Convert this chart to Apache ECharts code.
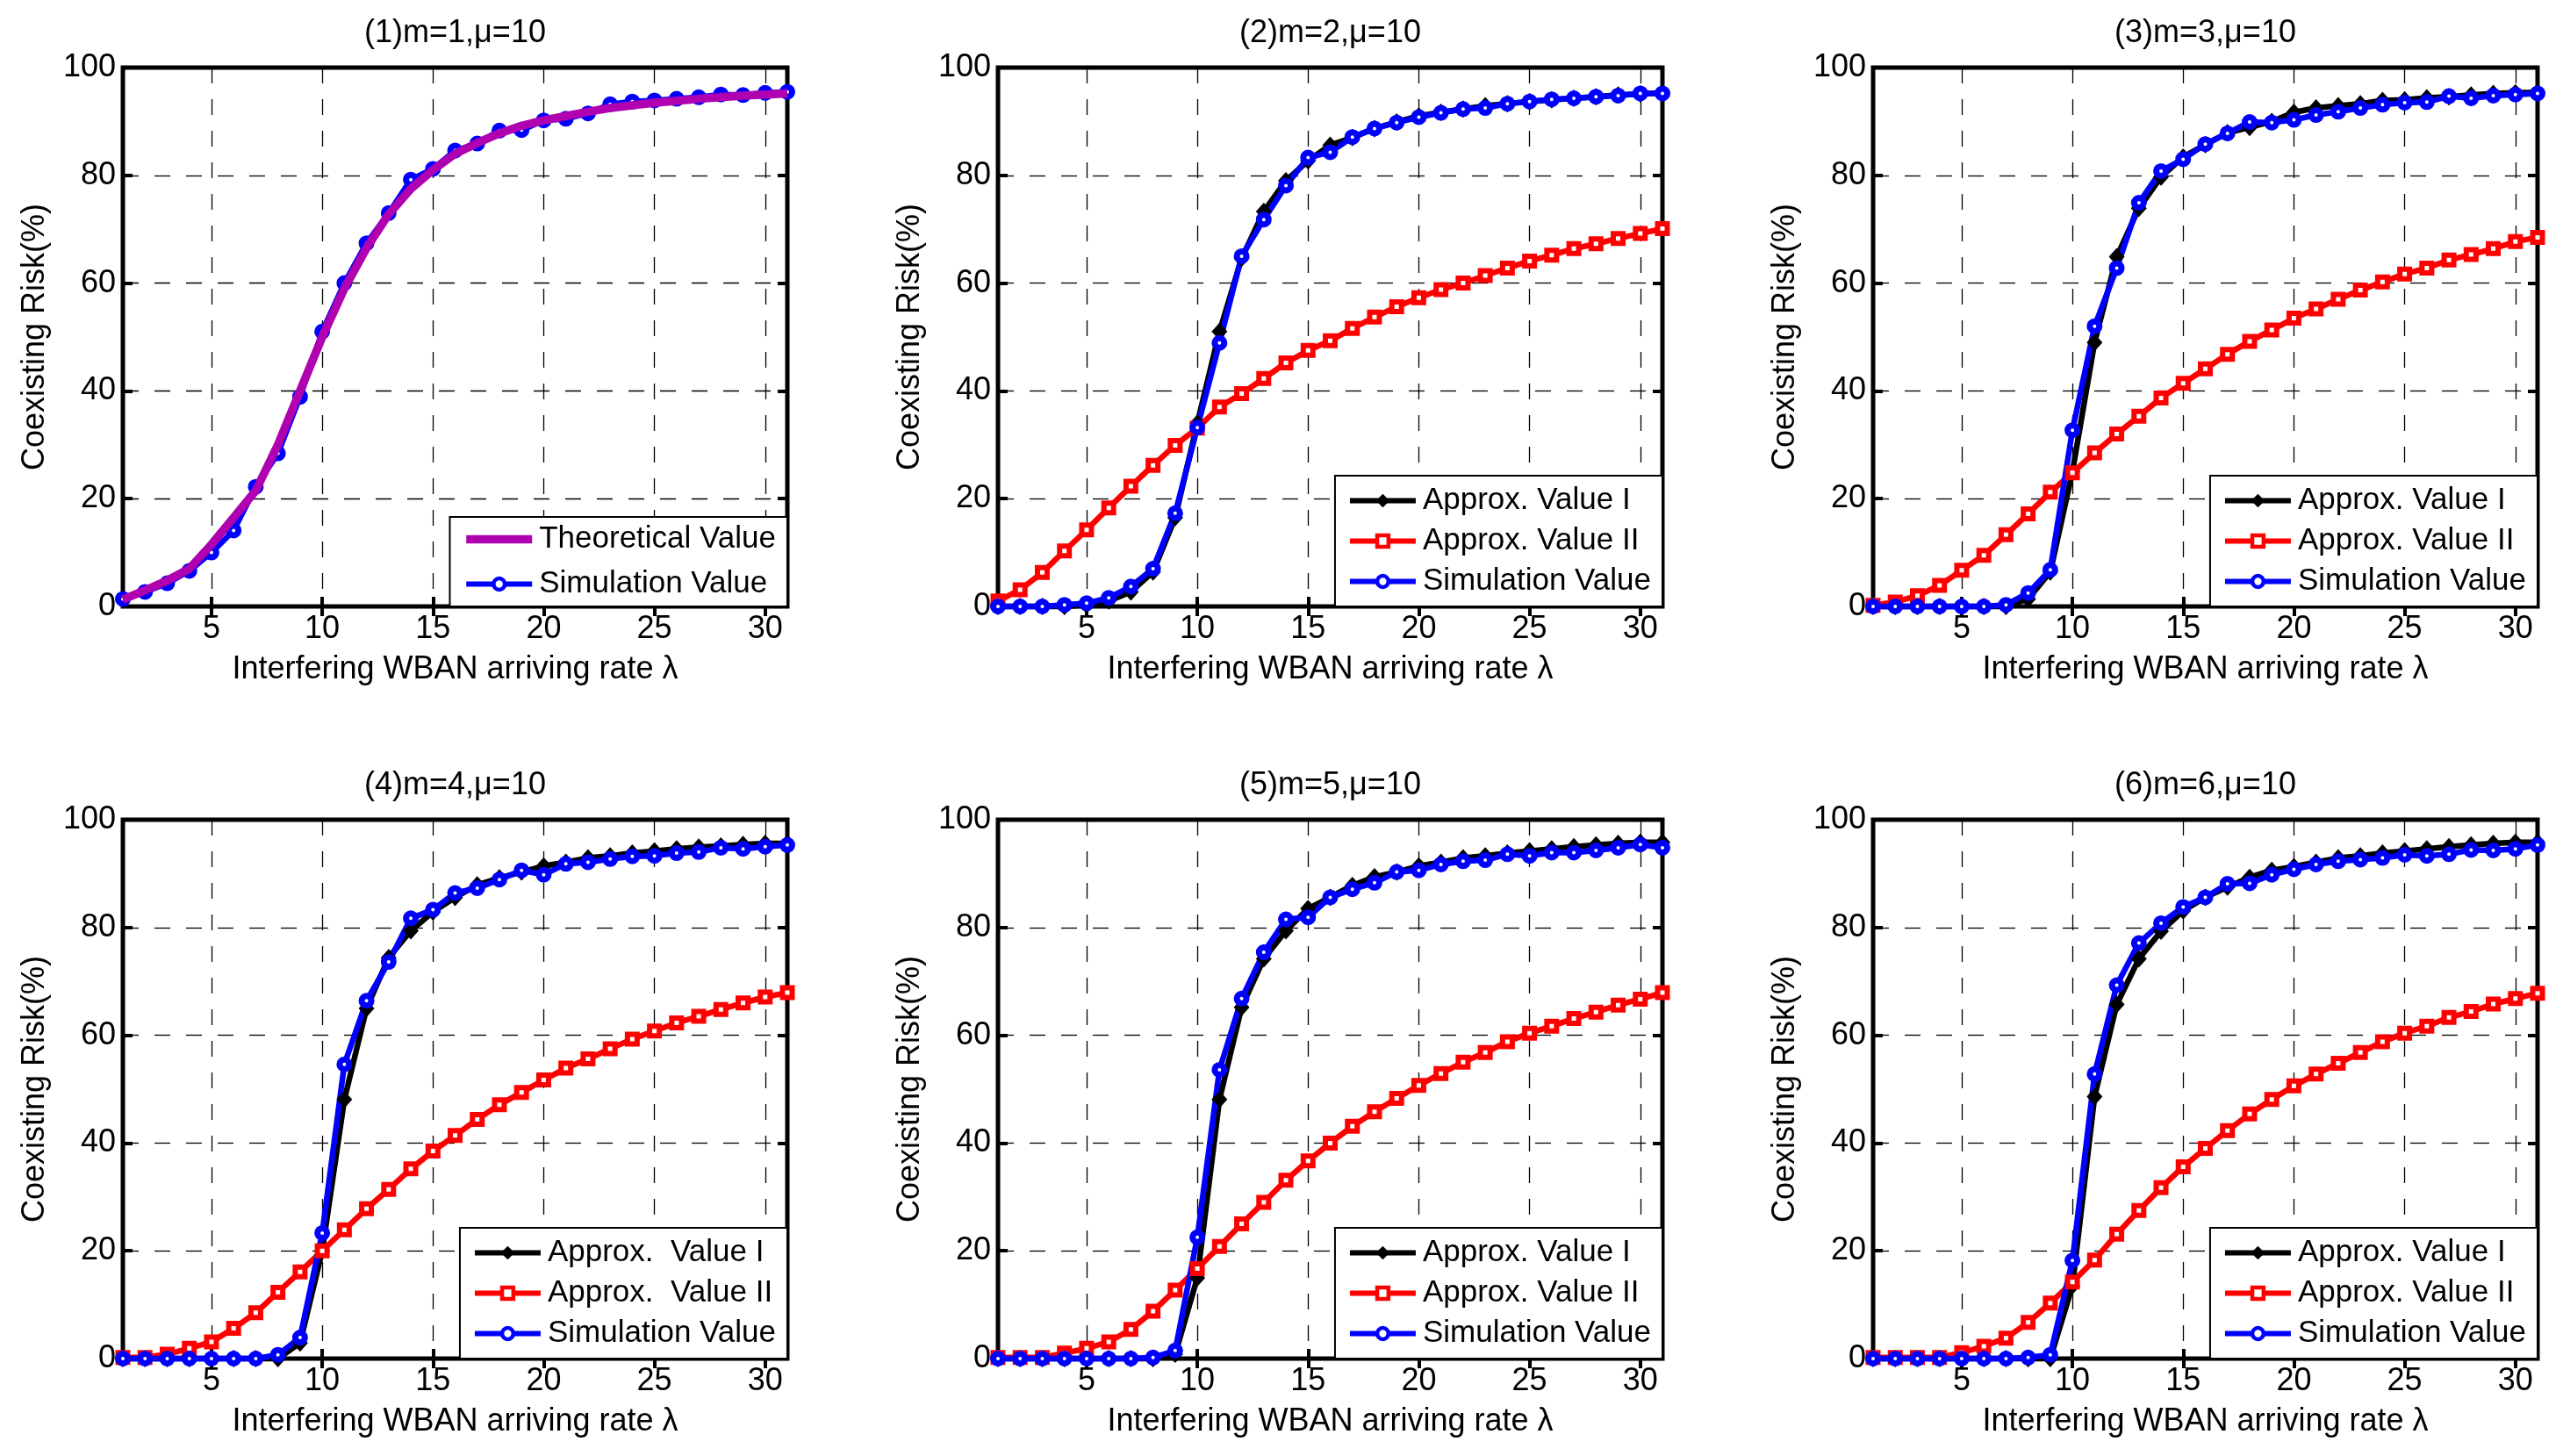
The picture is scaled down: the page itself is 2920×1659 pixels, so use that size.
<!DOCTYPE html>
<html>
<head>
<meta charset="utf-8">
<script src="https://cdn.jsdelivr.net/npm/echarts@6/dist/echarts.min.js"></script>
<style>
html,body{margin:0;padding:0;background:#fff;}
#c{width:2920px;height:1659px;}
</style>
</head>
<body>
<div id="c"></div>
<script>
const lambda = [1,2,3,4,5,6,7,8,9,10,11,12,13,14,15,16,17,18,19,20,21,22,23,24,25,26,27,28,29,30,31];
const xTicks = [5,10,15,20,25,30];
const titles = ['(1)m=1,μ=10','(2)m=2,μ=10','(3)m=3,μ=10','(4)m=4,μ=10','(5)m=5,μ=10','(6)m=6,μ=10'];
const xName = 'Interfering WBAN arriving rate λ';
const yName = 'Coexisting Risk(%)';

const m1Theory = [1.3,3.0,4.8,7.0,11.5,16.5,21.5,30.0,40.0,50.0,59.0,66.5,72.8,77.5,81.0,84.0,86.0,87.8,89.2,90.2,91.0,91.8,92.5,93.0,93.5,93.8,94.2,94.5,94.8,95.0,95.2];
const m1Sim = [1.4,2.7,4.3,6.6,10.0,14.1,22.2,28.4,38.9,51.0,60.0,67.4,73.0,79.2,81.2,84.6,85.9,88.3,88.4,90.2,90.5,91.5,93.2,93.7,93.9,94.2,94.5,95.0,94.9,95.3,95.5];

const m2ApproxI = [0,0,0,0,0.3,1.0,2.7,6.4,16.5,34.0,51.0,64.6,73.3,79.0,82.7,85.6,87.0,88.7,89.9,91.0,91.7,92.3,92.9,93.3,93.7,94.0,94.3,94.6,94.9,95.1,95.3];
const m2ApproxII = [1.0,3.1,6.3,10.3,14.2,18.3,22.3,26.2,29.9,33.1,37.0,39.5,42.3,45.2,47.5,49.3,51.6,53.7,55.6,57.3,58.8,60.0,61.4,62.8,64.1,65.2,66.4,67.3,68.3,69.2,70.1];
const m2Sim = [0,0,0,0.3,0.6,1.6,3.7,7.0,17.3,33.2,48.9,65.0,71.8,78.1,83.3,84.3,87.1,88.7,89.8,90.8,91.6,92.3,92.5,93.3,93.7,94.1,94.3,94.6,94.8,95.2,95.2];

const m3ApproxI = [0,0,0,0,0,0,0,1.4,6.4,25.0,49.0,64.9,73.9,79.7,83.4,85.7,87.9,88.9,90.0,91.7,92.5,92.9,93.3,93.9,94.0,94.4,94.6,94.9,95.2,95.3,95.4];
const m3ApproxII = [0.2,0.8,2.0,3.9,6.7,9.5,13.3,17.2,21.2,24.8,28.5,32.0,35.3,38.7,41.4,44.1,46.8,49.2,51.3,53.5,55.2,57.0,58.7,60.2,61.7,62.8,64.3,65.3,66.4,67.7,68.5];
const m3Sim = [0,0,0,0,0,0,0.3,2.5,6.8,32.7,52.0,62.8,74.9,80.8,83.0,85.8,87.8,89.9,89.8,90.3,91.2,91.8,92.5,93.1,93.5,93.6,94.7,94.3,94.8,95.0,95.2];

const m4ApproxI = [0,0,0,0,0,0,0,0,2.9,20.0,48.1,65.0,74.4,79.4,82.9,85.6,87.9,89.2,90.3,91.4,92.1,92.9,93.3,93.8,94.2,94.6,94.9,95.1,95.4,95.6,95.6];
const m4ApproxII = [0.2,0.2,0.8,1.9,3.1,5.6,8.5,12.3,16.1,20.0,23.9,27.8,31.4,35.2,38.5,41.4,44.4,47.1,49.4,51.7,53.9,55.6,57.5,59.3,60.8,62.3,63.5,64.8,66.0,67.1,67.9];
const m4Sim = [0,0,0,0,0,0,0,0.7,3.9,23.3,54.6,66.4,73.6,81.7,83.3,86.4,87.3,88.9,90.6,89.8,91.8,92.1,92.7,93.2,93.3,93.8,94.0,94.8,94.6,95.0,95.3];

const m5ApproxI = [0,0,0,0,0,0,0,0,0.8,15.0,48.1,65.2,74.2,79.4,83.5,85.6,87.8,89.4,90.3,91.4,92.1,92.9,93.3,93.8,94.2,94.6,95.0,95.3,95.6,95.8,95.8];
const m5ApproxII = [0.2,0.2,0.2,1.0,1.9,3.1,5.4,8.8,12.7,16.7,20.8,25.0,29.0,33.1,36.7,40.0,43.1,45.8,48.3,50.7,52.9,55.0,56.8,58.8,60.4,61.7,63.1,64.3,65.6,66.7,67.9];
const m5Sim = [0,0,0,0,0,0,0,0.2,1.5,22.5,53.6,66.8,75.4,81.5,81.9,85.6,87.1,88.3,90.3,90.6,91.7,92.3,92.5,93.6,93.3,93.9,93.9,94.3,94.8,95.4,94.8];

const m6ApproxI = [0,0,0,0,0,0,0,0,0,13.5,48.6,65.7,74.2,79.3,83.1,85.6,87.5,89.3,90.6,91.3,92.1,92.9,93.3,93.8,94.2,94.6,95.0,95.3,95.6,95.8,95.8];
const m6ApproxII = [0.2,0.2,0.2,0.2,1.1,2.3,3.8,6.7,10.3,14.2,18.3,23.1,27.5,31.7,35.6,39.0,42.3,45.4,48.1,50.6,52.8,54.8,56.8,58.8,60.4,61.7,63.3,64.4,65.8,66.8,67.8];
const m6Sim = [0,0,0,0,0,0,0,0.2,0.7,18.2,52.8,69.3,77.1,80.8,83.8,85.6,88.1,88.2,89.8,90.8,91.7,92.3,92.6,92.9,93.5,93.3,93.6,94.4,94.3,94.6,95.3];

const FONT = 'Liberation Sans, Arial, Helvetica, sans-serif';
const FS = 36;
const LFS = 35;
const MAGENTA = '#B000B0';

// layout (pixels)
const colLeft = [140, 1137, 2134];
const rowTop = [77, 934];
const GW = 757, GH = 614;

const grids = [], xAxes = [], yAxes = [], series = [], legends = [];

const styles = {
  theory: {color:MAGENTA, lineStyle:{width:9.5, color:MAGENTA}, symbol:'none', showSymbol:false, z:4},
  sim: {color:'#0000FF', lineStyle:{width:6.5, color:'#0000FF'}, symbol:'circle', symbolSize:11,
        itemStyle:{color:'#ffffff', borderColor:'#0000FF', borderWidth:7}, z:3},
  a2: {color:'#FF0000', lineStyle:{width:6.5, color:'#FF0000'}, symbol:'rect', symbolSize:11,
        itemStyle:{color:'#ffffff', borderColor:'#FF0000', borderWidth:6}, z:3},
  a1: {color:'#000000', lineStyle:{width:6.5, color:'#000000'}, symbol:'diamond', symbolSize:[18,20],
        itemStyle:{color:'#000000'}, z:3}
};
const legendItem = {
  theory: {itemStyle:{opacity:0}, lineStyle:{width:9.5, color:MAGENTA}},
  sim: {itemStyle:{color:'#ffffff', borderColor:'#0000FF', borderWidth:4.5}, lineStyle:{width:6, color:'#0000FF'}},
  a2: {itemStyle:{color:'#ffffff', borderColor:'#FF0000', borderWidth:4.5}, lineStyle:{width:6, color:'#FF0000'}},
  a1: {itemStyle:{color:'#000000', borderColor:'#000000', borderWidth:2}, lineStyle:{width:6, color:'#000000'}}
};

function addPanel(i, lines) {
  const r = Math.floor(i/3), c = i%3;
  grids.push({left: colLeft[c], top: rowTop[r], width: GW, height: GH, show: true,
    borderColor:'#000', borderWidth:5, backgroundColor:'#fff', containLabel:false});
  const tickStyle = {show:true, inside:true, length:11, lineStyle:{color:'#000', width:4}};
  const gridLine = {show:true, lineStyle:{color:'#000', width:1.3, type:[18,18]}};
  xAxes.push({type:'value', gridIndex:i, position:'bottom', min:1, max:31,
    axisLine:{show:false},
    axisTick:Object.assign({customValues:xTicks}, tickStyle),
    axisLabel:{customValues:xTicks, color:'#000', fontSize:FS, fontFamily:FONT, margin:8},
    splitLine:gridLine,
    name:xName, nameLocation:'middle', nameGap:54,
    nameTextStyle:{color:'#000', fontSize:FS, fontFamily:FONT}});
  xAxes.push({type:'value', gridIndex:i, position:'top', min:1, max:31,
    axisLine:{show:false},
    axisTick:Object.assign({customValues:xTicks}, tickStyle),
    axisLabel:{show:false, customValues:xTicks},
    splitLine:{show:false},
    name:titles[i], nameLocation:'middle', nameGap:21,
    nameTextStyle:{color:'#000', fontSize:FS, fontFamily:FONT}});
  yAxes.push({type:'value', gridIndex:i, position:'left', min:0, max:100, interval:20,
    axisLine:{show:false}, axisTick:tickStyle,
    axisLabel:{color:'#000', fontSize:FS, fontFamily:FONT, margin:8},
    splitLine:gridLine,
    name:yName, nameLocation:'middle', nameGap:82,
    nameTextStyle:{color:'#000', fontSize:FS, fontFamily:FONT}});
  yAxes.push({type:'value', gridIndex:i, position:'right', min:0, max:100, interval:20,
    axisLine:{show:false}, axisTick:tickStyle, axisLabel:{show:false}, splitLine:{show:false}});
  const names = [];
  lines.forEach(l => {
    names.push(Object.assign({name:l.name}, legendItem[l.style]));
    series.push(Object.assign({type:'line', name:l.name, xAxisIndex:2*i, yAxisIndex:2*i,
      clip:false, animation:false,
      data: lambda.map((x,k)=>[x, l.values[k]])}, styles[l.style]));
  });
  const two = lines.length === 2;
  legends.push({data:names, orient:'vertical', right: 2920-(colLeft[c]+GW), bottom: 1659-(rowTop[r]+GH),
    z:10, backgroundColor:'#fff', borderColor:'#000', borderWidth:2,
    padding: two ? [8,13,8,14] : [11,13,11,14],
    itemWidth:75, itemHeight:16, itemGap: two ? 16 : 11, selectedMode:false,
    textStyle:{color:'#000', fontSize:LFS, fontFamily:FONT, padding:[0,0,0,3], lineHeight:35}});
}

addPanel(0, [{name:'Theoretical Value', values:m1Theory, style:'theory'},
             {name:'Simulation Value', values:m1Sim, style:'sim'}]);
addPanel(1, [{name:'Approx. Value I', values:m2ApproxI, style:'a1'},
             {name:'Approx. Value II', values:m2ApproxII, style:'a2'},
             {name:'Simulation Value', values:m2Sim, style:'sim'}]);
addPanel(2, [{name:'Approx. Value I', values:m3ApproxI, style:'a1'},
             {name:'Approx. Value II', values:m3ApproxII, style:'a2'},
             {name:'Simulation Value', values:m3Sim, style:'sim'}]);
addPanel(3, [{name:'Approx.  Value I', values:m4ApproxI, style:'a1'},
             {name:'Approx.  Value II', values:m4ApproxII, style:'a2'},
             {name:'Simulation Value', values:m4Sim, style:'sim'}]);
addPanel(4, [{name:'Approx. Value I', values:m5ApproxI, style:'a1'},
             {name:'Approx. Value II', values:m5ApproxII, style:'a2'},
             {name:'Simulation Value', values:m5Sim, style:'sim'}]);
addPanel(5, [{name:'Approx. Value I', values:m6ApproxI, style:'a1'},
             {name:'Approx. Value II', values:m6ApproxII, style:'a2'},
             {name:'Simulation Value', values:m6Sim, style:'sim'}]);

const chart = echarts.init(document.getElementById('c'), null, {renderer:'canvas'});
chart.setOption({
  backgroundColor:'#fff',
  animation:false,
  textStyle:{fontFamily:FONT},
  grid:grids, xAxis:xAxes, yAxis:yAxes, series:series, legend:legends
});
</script>
</body>
</html>
